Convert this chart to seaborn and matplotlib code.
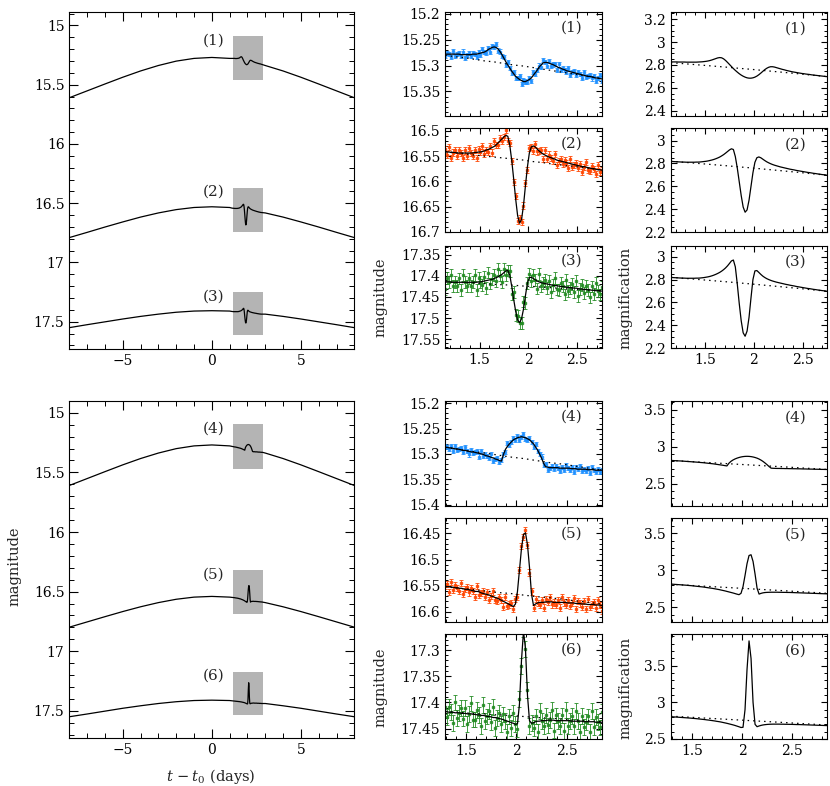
import numpy as np
import seaborn as sns
import matplotlib.pyplot as plt
from matplotlib.ticker import MultipleLocator, FuncFormatter

# ---------------- data ----------------
# wide light curves (left panels), t - t0 in days
t_base = [-8, -7, -6, -5, -4, -3, -2, -1, 0, 1, 2, 3, 4, 5, 6, 7, 8]
base_mag_1 = [15.610, 15.552, 15.494, 15.437, 15.384, 15.338, 15.301, 15.278, 15.270,
              15.278, 15.301, 15.338, 15.384, 15.437, 15.494, 15.552, 15.610]
base_mag_2 = [16.790, 16.746, 16.701, 16.658, 16.617, 16.582, 16.554, 16.536, 16.530,
              16.536, 16.554, 16.582, 16.617, 16.658, 16.701, 16.746, 16.790]
base_mag_3 = [17.550, 17.525, 17.501, 17.477, 17.455, 17.436, 17.420, 17.410, 17.407,
              17.410, 17.420, 17.436, 17.455, 17.477, 17.501, 17.525, 17.550]
base_mag_4 = [15.610, 15.552, 15.494, 15.437, 15.384, 15.338, 15.301, 15.278, 15.270,
              15.278, 15.301, 15.338, 15.384, 15.437, 15.494, 15.552, 15.610]
base_mag_5 = [16.798, 16.754, 16.710, 16.667, 16.627, 16.592, 16.564, 16.546, 16.540,
              16.546, 16.564, 16.592, 16.627, 16.667, 16.710, 16.754, 16.798]
base_mag_6 = [17.549, 17.526, 17.502, 17.478, 17.457, 17.438, 17.423, 17.413, 17.410,
              17.413, 17.423, 17.438, 17.457, 17.478, 17.502, 17.526, 17.549]

# zoomed windows (shaded boxes on the left)
box_t = [1.2, 2.9]
box_mag_top = [[15.09, 15.457], [16.37, 16.74], [17.25, 17.615]]
box_mag_bot = [[15.098, 15.47], [16.32, 16.69], [17.17, 17.535]]

# sampling times of the zoomed panels
t_top = np.round(np.linspace(1.15, 2.75, 81), 2)
t_bot = np.round(np.linspace(1.29, 2.85, 79), 2)

# single-lens (dotted) curves
t_dot_top = [1.15, 1.25, 1.35, 1.45, 1.55, 1.65, 1.75, 1.85, 1.95, 2.05, 2.15, 2.25,
             2.35, 2.45, 2.55, 2.65, 2.75]
amp_dot_top = [2.820, 2.813, 2.806, 2.799, 2.792, 2.785, 2.778, 2.770, 2.763, 2.755,
               2.747, 2.739, 2.731, 2.723, 2.714, 2.706, 2.697]
mag_dot_1 = [15.280, 15.283, 15.285, 15.288, 15.291, 15.293, 15.296, 15.299, 15.301,
             15.304, 15.307, 15.310, 15.313, 15.316, 15.319, 15.322, 15.326]
mag_dot_2 = [16.541, 16.543, 16.546, 16.548, 16.550, 16.552, 16.554, 16.556, 16.558,
             16.561, 16.563, 16.566, 16.568, 16.570, 16.573, 16.575, 16.578]
mag_dot_3 = [17.414, 17.415, 17.416, 17.417, 17.418, 17.420, 17.421, 17.422, 17.424,
             17.425, 17.427, 17.428, 17.430, 17.431, 17.433, 17.434, 17.436]
t_dot_bot = [1.29, 1.42, 1.55, 1.68, 1.81, 1.94, 2.07, 2.20, 2.33, 2.46, 2.59, 2.72, 2.85]
amp_dot_bot = [2.812, 2.802, 2.792, 2.782, 2.772, 2.762, 2.752, 2.742, 2.732, 2.722,
               2.711, 2.701, 2.690]
mag_dot_4 = [15.287, 15.291, 15.295, 15.298, 15.302, 15.306, 15.309, 15.313, 15.317,
             15.320, 15.324, 15.328, 15.332]
mag_dot_5 = [16.552, 16.555, 16.557, 16.560, 16.563, 16.565, 16.568, 16.571, 16.573,
             16.576, 16.579, 16.582, 16.585]
mag_dot_6 = [17.417, 17.419, 17.421, 17.422, 17.424, 17.425, 17.427, 17.429, 17.430,
             17.432, 17.434, 17.435, 17.437]

# binary-lens models: magnification
amp_1 = [2.826, 2.826, 2.826, 2.826, 2.825, 2.825, 2.825, 2.825, 2.824, 2.824,
         2.824, 2.824, 2.824, 2.824, 2.825, 2.826, 2.827, 2.829, 2.831, 2.834,
         2.838, 2.843, 2.849, 2.855, 2.861, 2.864, 2.862, 2.853, 2.839, 2.822,
         2.804, 2.786, 2.768, 2.752, 2.737, 2.723, 2.711, 2.701, 2.693, 2.687,
         2.684, 2.684, 2.687, 2.693, 2.702, 2.714, 2.728, 2.743, 2.758, 2.770,
         2.779, 2.784, 2.784, 2.781, 2.776, 2.771, 2.766, 2.761, 2.757, 2.752,
         2.748, 2.744, 2.740, 2.737, 2.734, 2.731, 2.728, 2.725, 2.723, 2.720,
         2.718, 2.716, 2.713, 2.711, 2.709, 2.707, 2.705, 2.703, 2.701, 2.699,
         2.697]
amp_2 = [2.818, 2.817, 2.816, 2.815, 2.814, 2.813, 2.812, 2.812, 2.811, 2.811,
         2.811, 2.811, 2.811, 2.812, 2.812, 2.813, 2.815, 2.817, 2.819, 2.822,
         2.826, 2.830, 2.835, 2.841, 2.848, 2.856, 2.866, 2.877, 2.890, 2.904,
         2.918, 2.928, 2.922, 2.860, 2.760, 2.640, 2.520, 2.420, 2.375, 2.395,
         2.480, 2.600, 2.720, 2.810, 2.850, 2.857, 2.850, 2.838, 2.826, 2.815,
         2.806, 2.798, 2.791, 2.785, 2.780, 2.775, 2.770, 2.766, 2.762, 2.758,
         2.754, 2.750, 2.747, 2.744, 2.740, 2.737, 2.734, 2.731, 2.728, 2.725,
         2.722, 2.720, 2.717, 2.714, 2.712, 2.709, 2.707, 2.704, 2.702, 2.700,
         2.697]
amp_3 = [2.818, 2.817, 2.816, 2.815, 2.814, 2.813, 2.812, 2.812, 2.811, 2.811,
         2.811, 2.811, 2.811, 2.812, 2.812, 2.813, 2.815, 2.817, 2.820, 2.823,
         2.827, 2.832, 2.838, 2.845, 2.853, 2.862, 2.873, 2.886, 2.901, 2.919,
         2.940, 2.962, 2.970, 2.910, 2.760, 2.590, 2.440, 2.335, 2.305, 2.350,
         2.470, 2.640, 2.800, 2.875, 2.878, 2.862, 2.845, 2.830, 2.818, 2.808,
         2.800, 2.793, 2.787, 2.782, 2.777, 2.773, 2.769, 2.765, 2.761, 2.757,
         2.754, 2.750, 2.747, 2.744, 2.740, 2.737, 2.734, 2.731, 2.728, 2.725,
         2.722, 2.720, 2.717, 2.714, 2.712, 2.709, 2.707, 2.704, 2.702, 2.700,
         2.697]
amp_4 = [2.812, 2.811, 2.809, 2.808, 2.806, 2.805, 2.803, 2.801, 2.799, 2.797,
         2.795, 2.793, 2.791, 2.789, 2.787, 2.784, 2.782, 2.779, 2.776, 2.773,
         2.770, 2.767, 2.763, 2.759, 2.755, 2.751, 2.747, 2.742, 2.738, 2.775,
         2.800, 2.818, 2.832, 2.843, 2.852, 2.859, 2.864, 2.867, 2.868, 2.867,
         2.864, 2.859, 2.852, 2.843, 2.831, 2.816, 2.798, 2.777, 2.754, 2.729,
         2.708, 2.706, 2.705, 2.704, 2.704, 2.703, 2.703, 2.702, 2.702, 2.701,
         2.701, 2.700, 2.700, 2.699, 2.699, 2.698, 2.697, 2.697, 2.696, 2.695,
         2.695, 2.694, 2.693, 2.693, 2.692, 2.691, 2.691, 2.690, 2.690]
amp_5 = [2.815, 2.813, 2.811, 2.809, 2.807, 2.805, 2.803, 2.801, 2.799, 2.796,
         2.794, 2.791, 2.788, 2.785, 2.782, 2.779, 2.776, 2.772, 2.768, 2.764,
         2.760, 2.756, 2.751, 2.746, 2.741, 2.735, 2.729, 2.723, 2.716, 2.709,
         2.702, 2.695, 2.687, 2.679, 2.672, 2.690, 2.780, 2.930, 3.090, 3.200,
         3.210, 3.120, 2.950, 2.760, 2.680, 2.690, 2.697, 2.701, 2.703, 2.704,
         2.705, 2.705, 2.705, 2.705, 2.704, 2.704, 2.703, 2.703, 2.702, 2.702,
         2.701, 2.700, 2.699, 2.698, 2.697, 2.696, 2.695, 2.694, 2.693, 2.692,
         2.691, 2.690, 2.689, 2.688, 2.687, 2.686, 2.685, 2.684, 2.683]
amp_6 = [2.805, 2.803, 2.801, 2.799, 2.797, 2.795, 2.793, 2.791, 2.789, 2.787,
         2.785, 2.782, 2.780, 2.777, 2.774, 2.771, 2.768, 2.765, 2.761, 2.758,
         2.754, 2.750, 2.746, 2.741, 2.737, 2.732, 2.726, 2.720, 2.714, 2.707,
         2.700, 2.693, 2.685, 2.676, 2.667, 2.657, 2.660, 2.900, 3.450, 3.840,
         3.600, 3.000, 2.700, 2.668, 2.678, 2.686, 2.692, 2.696, 2.699, 2.701,
         2.702, 2.703, 2.703, 2.703, 2.703, 2.702, 2.702, 2.701, 2.701, 2.700,
         2.700, 2.699, 2.698, 2.697, 2.697, 2.696, 2.695, 2.694, 2.693, 2.692,
         2.691, 2.690, 2.689, 2.688, 2.687, 2.686, 2.685, 2.684, 2.683]

# binary-lens models: magnitude
mag_1 = [15.278, 15.278, 15.278, 15.278, 15.278, 15.278, 15.278, 15.278, 15.279, 15.279,
         15.279, 15.279, 15.279, 15.279, 15.278, 15.278, 15.278, 15.277, 15.276, 15.275,
         15.274, 15.272, 15.269, 15.267, 15.265, 15.264, 15.265, 15.268, 15.273, 15.279,
         15.286, 15.293, 15.299, 15.305, 15.311, 15.316, 15.321, 15.324, 15.327, 15.329,
         15.331, 15.331, 15.329, 15.327, 15.324, 15.319, 15.314, 15.309, 15.303, 15.299,
         15.295, 15.294, 15.294, 15.295, 15.297, 15.298, 15.300, 15.302, 15.304, 15.305,
         15.307, 15.308, 15.310, 15.311, 15.312, 15.313, 15.314, 15.315, 15.316, 15.317,
         15.318, 15.319, 15.320, 15.321, 15.321, 15.322, 15.323, 15.324, 15.324, 15.325,
         15.326]
mag_2 = [16.542, 16.542, 16.542, 16.543, 16.543, 16.543, 16.544, 16.544, 16.544, 16.544,
         16.544, 16.544, 16.544, 16.544, 16.544, 16.543, 16.543, 16.542, 16.542, 16.541,
         16.540, 16.538, 16.537, 16.535, 16.533, 16.531, 16.528, 16.524, 16.520, 16.516,
         16.512, 16.509, 16.511, 16.529, 16.559, 16.596, 16.635, 16.668, 16.683, 16.676,
         16.648, 16.609, 16.572, 16.544, 16.532, 16.530, 16.532, 16.536, 16.540, 16.543,
         16.546, 16.548, 16.550, 16.552, 16.553, 16.555, 16.556, 16.558, 16.559, 16.560,
         16.561, 16.562, 16.563, 16.564, 16.565, 16.566, 16.567, 16.568, 16.569, 16.570,
         16.571, 16.571, 16.572, 16.573, 16.574, 16.575, 16.575, 16.576, 16.577, 16.577,
         16.578]
mag_3 = [17.414, 17.414, 17.414, 17.415, 17.415, 17.415, 17.415, 17.415, 17.415, 17.415,
         17.415, 17.415, 17.415, 17.415, 17.415, 17.415, 17.415, 17.414, 17.414, 17.413,
         17.412, 17.411, 17.410, 17.409, 17.408, 17.406, 17.404, 17.402, 17.399, 17.396,
         17.392, 17.388, 17.387, 17.398, 17.425, 17.456, 17.484, 17.505, 17.511, 17.502,
         17.479, 17.447, 17.417, 17.404, 17.403, 17.406, 17.409, 17.412, 17.414, 17.416,
         17.417, 17.418, 17.419, 17.420, 17.421, 17.422, 17.423, 17.423, 17.424, 17.425,
         17.425, 17.426, 17.427, 17.427, 17.428, 17.428, 17.429, 17.429, 17.430, 17.431,
         17.431, 17.432, 17.432, 17.433, 17.433, 17.434, 17.434, 17.435, 17.435, 17.435,
         17.436]
mag_4 = [15.287, 15.287, 15.288, 15.288, 15.289, 15.290, 15.290, 15.291, 15.292, 15.293,
         15.293, 15.294, 15.295, 15.296, 15.296, 15.297, 15.298, 15.299, 15.300, 15.301,
         15.303, 15.304, 15.305, 15.307, 15.308, 15.310, 15.311, 15.313, 15.314, 15.301,
         15.291, 15.285, 15.280, 15.276, 15.272, 15.270, 15.268, 15.267, 15.266, 15.267,
         15.268, 15.270, 15.272, 15.276, 15.280, 15.286, 15.292, 15.300, 15.308, 15.318,
         15.325, 15.326, 15.327, 15.327, 15.327, 15.327, 15.327, 15.328, 15.328, 15.328,
         15.328, 15.328, 15.328, 15.329, 15.329, 15.329, 15.330, 15.330, 15.330, 15.330,
         15.330, 15.331, 15.331, 15.331, 15.331, 15.332, 15.332, 15.332, 15.332]
mag_5 = [16.551, 16.552, 16.552, 16.553, 16.553, 16.554, 16.554, 16.555, 16.555, 16.556,
         16.557, 16.557, 16.558, 16.559, 16.560, 16.561, 16.561, 16.562, 16.564, 16.565,
         16.566, 16.567, 16.568, 16.570, 16.571, 16.573, 16.574, 16.576, 16.578, 16.580,
         16.582, 16.584, 16.586, 16.588, 16.590, 16.585, 16.561, 16.520, 16.479, 16.452,
         16.449, 16.472, 16.515, 16.566, 16.588, 16.585, 16.583, 16.582, 16.582, 16.582,
         16.581, 16.581, 16.581, 16.581, 16.582, 16.582, 16.582, 16.582, 16.582, 16.582,
         16.582, 16.583, 16.583, 16.583, 16.583, 16.584, 16.584, 16.584, 16.585, 16.585,
         16.585, 16.586, 16.586, 16.586, 16.586, 16.587, 16.587, 16.587, 16.588]
mag_6 = [17.418, 17.418, 17.419, 17.419, 17.419, 17.420, 17.420, 17.420, 17.421, 17.421,
         17.421, 17.422, 17.422, 17.422, 17.423, 17.423, 17.424, 17.424, 17.425, 17.425,
         17.426, 17.427, 17.427, 17.428, 17.429, 17.429, 17.430, 17.431, 17.432, 17.433,
         17.435, 17.436, 17.437, 17.439, 17.440, 17.442, 17.441, 17.403, 17.320, 17.264,
         17.298, 17.387, 17.435, 17.440, 17.439, 17.437, 17.436, 17.436, 17.435, 17.435,
         17.435, 17.434, 17.434, 17.434, 17.434, 17.435, 17.435, 17.435, 17.435, 17.435,
         17.435, 17.435, 17.435, 17.436, 17.436, 17.436, 17.436, 17.436, 17.436, 17.437,
         17.437, 17.437, 17.437, 17.437, 17.437, 17.438, 17.438, 17.438, 17.438]

# photometry (magnitudes) and error bar sizes
obs_1 = [15.281, 15.275, 15.278, 15.284, 15.272, 15.281, 15.278, 15.275, 15.282, 15.273,
         15.285, 15.279, 15.276, 15.282, 15.275, 15.278, 15.284, 15.274, 15.279, 15.269,
         15.274, 15.275, 15.266, 15.273, 15.262, 15.264, 15.259, 15.271, 15.273, 15.282,
         15.283, 15.299, 15.293, 15.305, 15.314, 15.313, 15.324, 15.324, 15.321, 15.335,
         15.328, 15.331, 15.332, 15.324, 15.330, 15.313, 15.317, 15.309, 15.300, 15.302,
         15.289, 15.294, 15.300, 15.292, 15.300, 15.298, 15.297, 15.308, 15.298, 15.308,
         15.304, 15.308, 15.313, 15.305, 15.318, 15.313, 15.311, 15.318, 15.313, 15.317,
         15.324, 15.313, 15.323, 15.321, 15.318, 15.325, 15.320, 15.330, 15.324, 15.319,
         15.329]
obs_2 = [16.537, 16.547, 16.532, 16.553, 16.543, 16.538, 16.549, 16.539, 16.544, 16.554,
         16.539, 16.549, 16.534, 16.544, 16.549, 16.538, 16.553, 16.537, 16.542, 16.531,
         16.545, 16.538, 16.542, 16.530, 16.543, 16.521, 16.528, 16.529, 16.515, 16.521,
         16.512, 16.499, 16.521, 16.524, 16.559, 16.601, 16.630, 16.678, 16.673, 16.681,
         16.648, 16.604, 16.577, 16.534, 16.532, 16.540, 16.527, 16.541, 16.540, 16.538,
         16.556, 16.538, 16.555, 16.547, 16.553, 16.560, 16.546, 16.568, 16.559, 16.555,
         16.566, 16.557, 16.563, 16.574, 16.555, 16.571, 16.567, 16.563, 16.574, 16.565,
         16.581, 16.571, 16.562, 16.578, 16.579, 16.570, 16.575, 16.586, 16.567, 16.582,
         16.578]
obs_3 = [17.432, 17.405, 17.414, 17.397, 17.424, 17.415, 17.424, 17.406, 17.433, 17.397,
         17.415, 17.424, 17.406, 17.424, 17.415, 17.397, 17.433, 17.405, 17.414, 17.422,
         17.403, 17.429, 17.392, 17.418, 17.408, 17.397, 17.413, 17.384, 17.399, 17.414,
         17.383, 17.397, 17.387, 17.389, 17.443, 17.438, 17.493, 17.496, 17.511, 17.511,
         17.461, 17.465, 17.417, 17.395, 17.412, 17.397, 17.409, 17.430, 17.396, 17.425,
         17.417, 17.409, 17.428, 17.411, 17.439, 17.422, 17.405, 17.432, 17.433, 17.416,
         17.425, 17.444, 17.409, 17.436, 17.428, 17.419, 17.438, 17.411, 17.448, 17.431,
         17.422, 17.441, 17.423, 17.433, 17.451, 17.425, 17.443, 17.417, 17.435, 17.444,
         17.427]
obs_4 = [15.284, 15.287, 15.291, 15.285, 15.295, 15.284, 15.293, 15.291, 15.289, 15.296,
         15.287, 15.294, 15.301, 15.293, 15.299, 15.297, 15.295, 15.305, 15.294, 15.304,
         15.300, 15.304, 15.308, 15.301, 15.314, 15.310, 15.308, 15.316, 15.311, 15.301,
         15.297, 15.279, 15.283, 15.276, 15.269, 15.273, 15.265, 15.273, 15.266, 15.261,
         15.271, 15.273, 15.269, 15.276, 15.286, 15.280, 15.295, 15.300, 15.305, 15.321,
         15.319, 15.332, 15.327, 15.324, 15.330, 15.324, 15.327, 15.334, 15.325, 15.331,
         15.322, 15.328, 15.331, 15.326, 15.335, 15.326, 15.330, 15.324, 15.333, 15.330,
         15.333, 15.328, 15.337, 15.325, 15.331, 15.335, 15.329, 15.335, 15.332]
obs_5 = [16.551, 16.547, 16.562, 16.543, 16.558, 16.549, 16.554, 16.560, 16.545, 16.566,
         16.557, 16.552, 16.563, 16.554, 16.560, 16.571, 16.551, 16.567, 16.564, 16.560,
         16.571, 16.562, 16.578, 16.570, 16.561, 16.578, 16.579, 16.571, 16.578, 16.590,
         16.572, 16.589, 16.586, 16.583, 16.595, 16.575, 16.571, 16.520, 16.474, 16.457,
         16.444, 16.472, 16.525, 16.561, 16.593, 16.575, 16.583, 16.587, 16.577, 16.592,
         16.576, 16.581, 16.571, 16.586, 16.582, 16.587, 16.577, 16.592, 16.572, 16.582,
         16.587, 16.578, 16.588, 16.583, 16.573, 16.594, 16.579, 16.584, 16.590, 16.580,
         16.595, 16.576, 16.591, 16.586, 16.581, 16.592, 16.577, 16.587, 16.598]
obs_6 = [17.408, 17.428, 17.409, 17.419, 17.439, 17.400, 17.430, 17.420, 17.411, 17.431,
         17.411, 17.442, 17.422, 17.402, 17.433, 17.433, 17.414, 17.424, 17.445, 17.405,
         17.436, 17.427, 17.417, 17.438, 17.409, 17.449, 17.430, 17.421, 17.442, 17.423,
         17.435, 17.456, 17.427, 17.449, 17.420, 17.442, 17.451, 17.393, 17.330, 17.260,
         17.298, 17.377, 17.445, 17.440, 17.449, 17.427, 17.456, 17.416, 17.435, 17.445,
         17.425, 17.444, 17.434, 17.414, 17.454, 17.425, 17.435, 17.445, 17.425, 17.455,
         17.415, 17.445, 17.435, 17.426, 17.446, 17.416, 17.436, 17.456, 17.426, 17.447,
         17.437, 17.427, 17.457, 17.417, 17.447, 17.428, 17.438, 17.448, 17.418]
obs_err = [0.004, 0.006, 0.014, 0.004, 0.006, 0.015]

panel_labels = ["(1)", "(2)", "(3)", "(4)", "(5)", "(6)"]

# ---------------- style ----------------
sns.set_theme(style="ticks")
plt.rcParams["font.family"] = ["DejaVu Serif"]
plt.rcParams["mathtext.fontset"] = "dejavuserif"
plt.rcParams["axes.edgecolor"] = "black"
plt.rcParams["axes.linewidth"] = 0.8
plt.rcParams["xtick.color"] = "black"
plt.rcParams["ytick.color"] = "black"
plt.rcParams["xtick.labelsize"] = 10
plt.rcParams["ytick.labelsize"] = 10

colors = ["#1e90ff", "#ff4500", "#228b22"]
box_color = "#b4b4b4"
dotted = (0, (1.2, 3.2))


def num(v, pos):
    return f"{round(v, 4):g}".replace("-", "\u2212")


def style(ax, xmaj, xmin, ymaj, ymin, big=False, xlabels=True):
    ax.xaxis.set_major_locator(MultipleLocator(xmaj))
    ax.xaxis.set_minor_locator(MultipleLocator(xmin))
    ax.yaxis.set_major_locator(MultipleLocator(ymaj))
    ax.yaxis.set_minor_locator(MultipleLocator(ymin))
    ax.xaxis.set_major_formatter(FuncFormatter(num))
    ax.yaxis.set_major_formatter(FuncFormatter(num))
    ax.tick_params(which="both", direction="in", top=True, right=True, colors="black")
    ax.tick_params(which="major", length=6.5 if big else 4.5, width=0.8)
    ax.tick_params(which="minor", length=3.5 if big else 2.3, width=0.7)
    ax.tick_params(labelbottom=xlabels)
    ax.set_xlabel("")
    ax.set_ylabel("")


def line(ax, x, y, ls="-"):
    sns.lineplot(x=np.asarray(x), y=np.asarray(y), ax=ax, color="black",
                 lw=0.9, linestyle=ls, sort=False, estimator=None, zorder=4)


def splice(tb, mb, tm, mm):
    tb = np.asarray(tb)
    mb = np.asarray(mb)
    lo = tb < tm[0]
    hi = tb > tm[-1]
    return (np.concatenate([tb[lo], tm, tb[hi]]),
            np.concatenate([mb[lo], np.asarray(mm), mb[hi]]))


fig = plt.figure(figsize=(8.3, 7.86), dpi=100)

rows = [
    dict(t=t_top, td=t_dot_top, ad=amp_dot_top, bottom_left=0.556,
         mid=[0.8528, 0.7045, 0.5569], hs=[0.1316, 0.1323, 0.1305],
         base=[base_mag_1, base_mag_2, base_mag_3], box=box_mag_top,
         mags=[mag_1, mag_2, mag_3], amps=[amp_1, amp_2, amp_3],
         obs=[obs_1, obs_2, obs_3], md=[mag_dot_1, mag_dot_2, mag_dot_3],
         lylim=(17.73, 14.89), xlim=(1.15, 2.75),
         mylim=[(15.397, 15.197), (16.701, 16.495), (17.572, 17.328)],
         aylim=[(2.356, 3.26), (2.2, 3.107), (2.2, 3.095)], amaj=0.2, amin=0.05),
    dict(t=t_bot, td=t_dot_bot, ad=amp_dot_bot, bottom_left=0.0611,
         mid=[0.3566, 0.2083, 0.0598], hs=[0.1336, 0.1331, 0.1332],
         base=[base_mag_4, base_mag_5, base_mag_6], box=box_mag_bot,
         mags=[mag_4, mag_5, mag_6], amps=[amp_4, amp_5, amp_6],
         obs=[obs_4, obs_5, obs_6], md=[mag_dot_4, mag_dot_5, mag_dot_6],
         lylim=(17.727, 14.905), xlim=(1.29, 2.85),
         mylim=[(15.402, 15.195), (16.62, 16.42), (17.47, 17.27)],
         aylim=[(2.2, 3.62), (2.3, 3.71), (2.5, 3.93)], amaj=0.5, amin=0.1),
]

for r, row in enumerate(rows):
    # left: full light curves
    axl = fig.add_axes([0.0835, row["bottom_left"], 0.3434, 0.4282])
    for i in range(3):
        lo, hi = row["box"][i]
        axl.fill_between(box_t, [lo, lo], [hi, hi], color=box_color, lw=0, zorder=1)
        x, y = splice(t_base, row["base"][i], row["t"], row["mags"][i])
        line(axl, x, y)
        axl.text(0.1, lo + 0.035, panel_labels[3 * r + i], ha="center",
                 va="center", fontsize=11)
    axl.set_xlim(-8, 8)
    axl.set_ylim(*row["lylim"])
    style(axl, 5, 1, 0.5, 0.1, big=True)

    for i in range(3):
        k = 3 * r + i
        last = i == 2
        # middle: photometry + models
        axm = fig.add_axes([0.5365, row["mid"][i], 0.1884, row["hs"][i]])
        axm.errorbar(row["t"], row["obs"][i], yerr=obs_err[k], fmt="s", ms=1.7,
                     color=colors[i], ecolor=colors[i], elinewidth=0.7,
                     capsize=1.2, capthick=0.7, alpha=0.85, zorder=2)
        line(axm, row["td"], row["md"][i], ls=dotted)
        line(axm, row["t"], row["mags"][i])
        axm.set_xlim(*row["xlim"])
        axm.set_ylim(*row["mylim"][i])
        style(axm, 0.5, 0.1, 0.05, 0.01, xlabels=last)
        axm.text(0.81, 0.85, panel_labels[k], transform=axm.transAxes,
                 ha="center", va="center", fontsize=11)

        # right: magnification
        axr = fig.add_axes([0.8081, row["mid"][i], 0.1887, row["hs"][i]])
        line(axr, row["td"], row["ad"], ls=dotted)
        line(axr, row["t"], row["amps"][i])
        axr.set_xlim(*row["xlim"])
        axr.set_ylim(*row["aylim"][i])
        style(axr, 0.5, 0.1, row["amaj"], row["amin"], xlabels=last)
        axr.text(0.80, 0.84, panel_labels[k], transform=axr.transAxes,
                 ha="center", va="center", fontsize=11)

# axis titles
fig.text(0.017, 0.28, "magnitude", rotation=90, ha="center", va="center", fontsize=10.5)
fig.text(0.254, 0.0125, r"$t\,-t_{\rm 0}$ (days)", ha="center", va="center", fontsize=10.5)
for yc in (0.6215, 0.1253):
    fig.text(0.459, yc, "magnitude", rotation=90, ha="center", va="center", fontsize=10.5)
    fig.text(0.754, yc, "magnification", rotation=90, ha="center", va="center", fontsize=10.5)

fig.savefig("out.png", dpi=100)
